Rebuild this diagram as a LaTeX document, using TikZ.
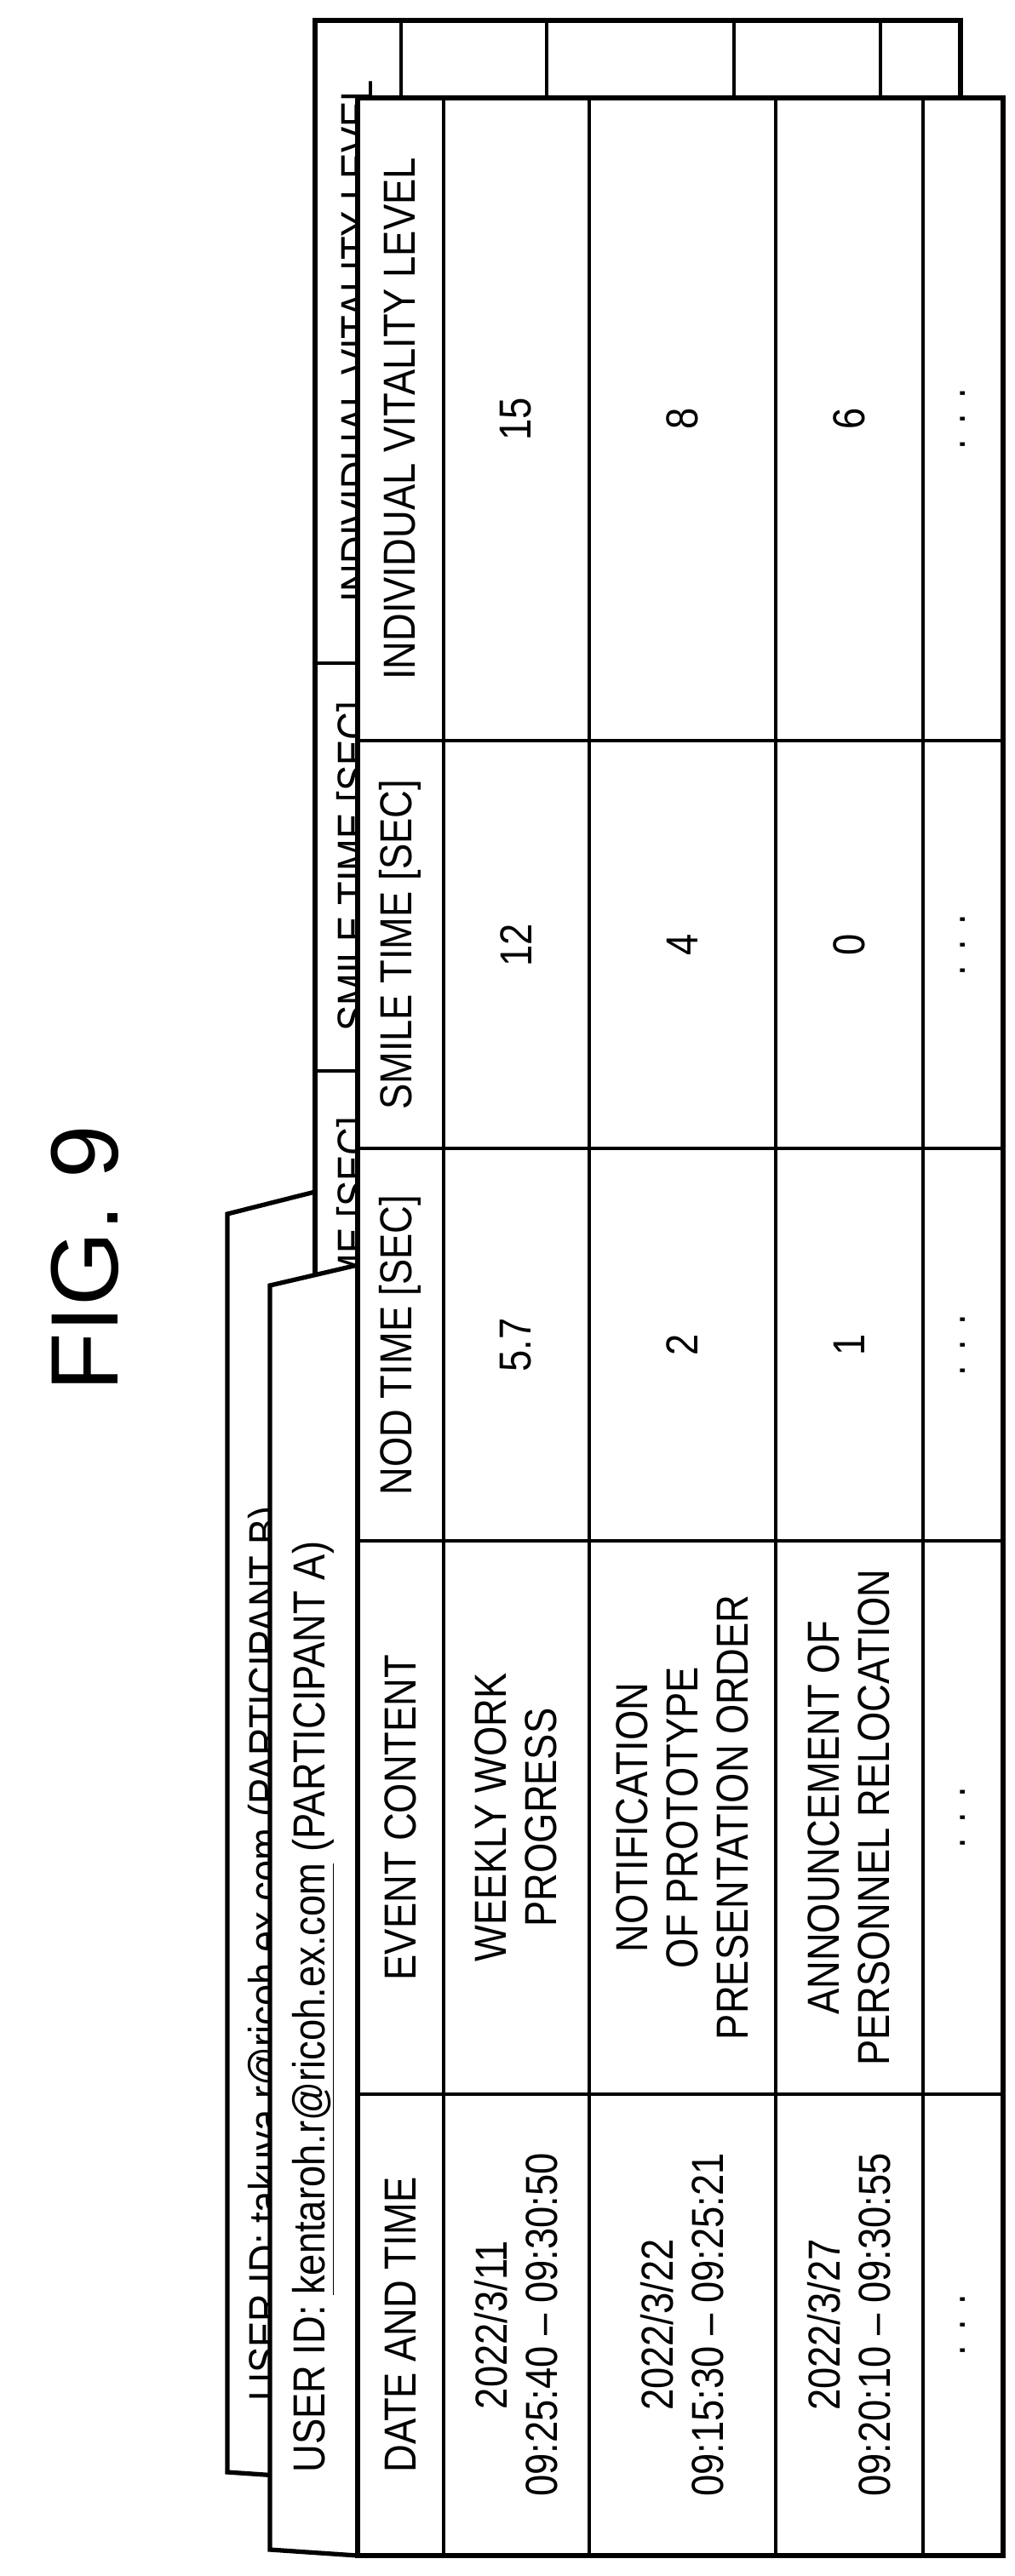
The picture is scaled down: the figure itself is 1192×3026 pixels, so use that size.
\documentclass[tikz,border=0pt]{standalone}
\usepackage{fontspec}
\setmainfont{Liberation Sans}[FakeStretch=0.86]
\newfontfamily\figfont{Liberation Sans}
\begin{document}
\begin{tikzpicture}[x=0.02cm,y=-0.02cm,
  outer/.style={line width=3pt,line join=miter},
  inner/.style={line width=2.5pt},
  txt/.style={rotate=90,align=center,inner sep=0pt,font=\fontsize{30}{33.5}\selectfont}]
\useasboundingbox (0,0) rectangle (1192,3026);
% ---------- back (participant B) ----------
\draw[outer,fill=white] (370,1400) -- (267,1426) -- (267,2904) -- (370,2911);
\node[txt,anchor=west] (tb) at (318,2821) {USER ID: \underline{takuya.r@ricoh.ex.com} (PARTICIPANT B)};
\draw[outer,fill=white] (370,24) rectangle (1128,2911);
\foreach \x in {471,642,862,1034} \draw[inner] (\x,24) -- (\x,2911);
\foreach \y in {779,1258,1719,2369} \draw[inner] (370,\y) -- (1128,\y);
\node[txt] (bh1) at (420,401) {INDIVIDUAL VITALITY LEVEL};
\node[txt] (bh2) at (420,1018) {SMILE TIME [SEC]};
\node[txt] (bh3) at (420,1488) {NOD TIME [SEC]};
\node[txt] (bh4) at (420,2044) {EVENT CONTENT};
\node[txt] (bh5) at (420,2640) {DATE AND TIME};
% ---------- front (participant A) ----------
\draw[outer,fill=white] (420,1486) -- (317,1510) -- (317,2995) -- (420,3002);
\node[txt,anchor=west] (ta) at (368,2905) {USER ID: \underline{kentaroh.r@ricoh.ex.com} (PARTICIPANT A)};
\draw[outer,fill=white] (420,115) rectangle (1178,3002);
\foreach \x in {521,692,911,1084} \draw[inner] (\x,115) -- (\x,3002);
\foreach \y in {870,1349,1810,2460} \draw[inner] (420,\y) -- (1178,\y);
% headers
\node[txt] (h1) at (470,492) {INDIVIDUAL VITALITY LEVEL};
\node[txt] (h2) at (470,1110) {SMILE TIME [SEC]};
\node[txt] (h3) at (470,1580) {NOD TIME [SEC]};
\node[txt] (h4) at (470,2135) {EVENT CONTENT};
\node[txt] (h5) at (470,2731) {DATE AND TIME};
% row 1
\node[txt] (a5) at (606,2731) {2022/3/11\\09:25:40 -- 09:30:50};
\node[txt] (a4) at (606,2135) {WEEKLY WORK\\PROGRESS};
\node[txt] (a3) at (606,1580) {5.7};
\node[txt] (a2) at (606,1110) {12};
\node[txt] (a1) at (606,492) {15};
% row 2
\node[txt] (b5) at (801,2731) {2022/3/22\\09:15:30 -- 09:25:21};
\node[txt] (b4) at (801,2135) {NOTIFICATION\\OF PROTOTYPE\\PRESENTATION ORDER};
\node[txt] (b3) at (801,1580) {2};
\node[txt] (b2) at (801,1110) {4};
\node[txt] (b1) at (801,492) {8};
% row 3
\node[txt] (c5) at (997,2731) {2022/3/27\\09:20:10 -- 09:30:55};
\node[txt] (c4) at (997,2135) {ANNOUNCEMENT OF\\PERSONNEL RELOCATION};
\node[txt] (c3) at (997,1580) {1};
\node[txt] (c2) at (997,1110) {0};
\node[txt] (c1) at (997,492) {6};
% row 4
\foreach \y/\n in {2731/5,2135/4,1580/3,1110/2,492/1}
  \node[txt] (d\n) at (1131,\y) {.\,\,.\,\,.};
% title
\node[rotate=90,inner sep=0pt,font=\figfont\fontsize{64}{70}\selectfont] (fig) at (100,1478) {FIG. 9};
\end{tikzpicture}
\end{document}
